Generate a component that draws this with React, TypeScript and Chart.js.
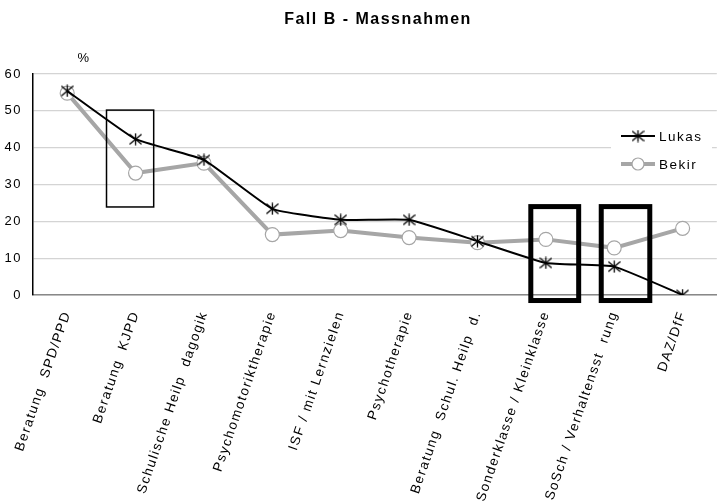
import React, { useEffect, useRef } from "react";
import { Chart, registerables } from "chart.js";

Chart.register(...registerables);

const TITLE = "Fall B - Massnahmen";
const UNIT = "%";
const categories = [
  "Beratung  SPD/PPD",
  "Beratung  KJPD",
  "Schulische Heilp  dagogik",
  "Psychomotoriktherapie",
  "ISF / mit Lernzielen",
  "Psychotherapie",
  "Beratung  Schul. Heilp  d.",
  "Sonderklasse / Kleinklasse",
  "SoSch / Verhaltensst  rung",
  "DAZ/DfF",
];
const lukas = [55.4, 42.3, 36.7, 23.4, 20.4, 20.4, 14.6, 8.7, 7.7, 0];
const bekir = [54.8, 33.1, 35.8, 16.4, 17.5, 15.6, 14.2, 15.1, 12.8, 18.1];
const yTicks = [0, 10, 20, 30, 40, 50, 60];
// highlight boxes (category index range, value range, line width)
const boxFrom = [0.575, 6.78, 7.81];
const boxTo = [1.265, 7.48, 8.52];
const boxLow = [23.9, -1.5, -1.5];
const boxHigh = [50.2, 24.0, 24.0];
const boxWidth = [1.5, 5, 5];

const FONT = "'Liberation Sans', Arial, sans-serif";
const SPACING = "1.5px";

function makeStar(w: number, h: number, lw: number, color: string) {
  const c = document.createElement("canvas");
  c.width = w;
  c.height = h;
  const ctx = c.getContext("2d")!;
  ctx.strokeStyle = color;
  ctx.lineWidth = lw;
  ctx.beginPath();
  ctx.moveTo(w / 2, 0.5);
  ctx.lineTo(w / 2, h - 0.5);
  ctx.moveTo(0.5, 1.5);
  ctx.lineTo(w - 0.5, h - 1.5);
  ctx.moveTo(w - 0.5, 1.5);
  ctx.lineTo(0.5, h - 1.5);
  ctx.stroke();
  return c;
}

export default function App() {
  const ref = useRef<HTMLCanvasElement>(null);
  useEffect(() => {
    const star = makeStar(13, 13, 1.3, "#000");
    const extras = {
      id: "extras",
      beforeUpdate(chart: any) {
        chart.ctx.letterSpacing = SPACING;
      },
      beforeDraw(chart: any) {
        chart.ctx.letterSpacing = SPACING;
      },
      afterDatasetsDraw(chart: any) {
        const ctx = chart.ctx;
        const xs = chart.scales.x;
        const ys = chart.scales.y;
        ctx.save();
        ctx.strokeStyle = "#000";
        for (let i = 0; i < boxFrom.length; i++) {
          const x1 = xs.getPixelForValue(boxFrom[i]);
          const x2 = xs.getPixelForValue(boxTo[i]);
          const y1 = ys.getPixelForValue(boxHigh[i]);
          const y2 = ys.getPixelForValue(boxLow[i]);
          ctx.lineWidth = boxWidth[i];
          ctx.strokeRect(x1, y1, x2 - x1, y2 - y1);
        }
        ctx.restore();
      },
      afterDraw(chart: any) {
        const ctx = chart.ctx;
        ctx.save();
        ctx.letterSpacing = SPACING;
        ctx.fillStyle = "#000";
        ctx.textAlign = "center";
        ctx.textBaseline = "middle";
        ctx.font = `bold 16px ${FONT}`;
        ctx.fillText(TITLE, 378, 20);
        ctx.font = `13px ${FONT}`;
        ctx.fillText(UNIT, 84, 58);
        // legend
        ctx.fillStyle = "#fff";
        ctx.fillRect(611, 124, 101, 52);
        const items = [
          { label: "Lukas", color: "#000", lw: 2, y: 136, star: true },
          { label: "Bekir", color: "#a6a6a6", lw: 4, y: 164, star: false },
        ];
        for (const it of items) {
          ctx.strokeStyle = it.color;
          ctx.lineWidth = it.lw;
          ctx.beginPath();
          ctx.moveTo(621, it.y);
          ctx.lineTo(655, it.y);
          ctx.stroke();
          if (it.star) {
            ctx.drawImage(star, 638 - 6.5, it.y - 6.5);
          } else {
            ctx.fillStyle = "#fff";
            ctx.strokeStyle = "#a6a6a6";
            ctx.lineWidth = 1.2;
            ctx.beginPath();
            ctx.arc(638, it.y, 6, 0, Math.PI * 2);
            ctx.fill();
            ctx.stroke();
          }
          ctx.fillStyle = "#000";
          ctx.textAlign = "left";
          ctx.font = `13.5px ${FONT}`;
          ctx.fillText(it.label, 659, it.y + 1);
        }
        ctx.restore();
      },
    };
    const chart = new Chart(ref.current!, {
      type: "line",
      data: {
        labels: categories,
        datasets: [
          {
            label: "Lukas",
            data: lukas,
            borderColor: "#000",
            borderWidth: 2,
            tension: 0.12,
            pointStyle: star as any,
            pointRadius: 6,
          },
          {
            label: "Bekir",
            data: bekir,
            borderColor: "#a6a6a6",
            borderWidth: 4,
            tension: 0,
            pointStyle: "circle",
            pointRadius: 7,
            pointBorderWidth: 1.2,
            pointBorderColor: "#a6a6a6",
            pointBackgroundColor: "#fff",
          },
        ],
      },
      options: {
        animation: false,
        responsive: false,
        devicePixelRatio: 1,
        layout: { padding: { top: 74, right: -4, left: 0, bottom: 0 } },
        plugins: {
          legend: { display: false },
          title: { display: false },
          tooltip: { enabled: false },
        },
        scales: {
          x: {
            type: "category",
            offset: true,
            grid: { display: false },
            border: { color: "#888", width: 1.5 },
            ticks: {
              autoSkip: false,
              maxRotation: 71,
              minRotation: 71,
              color: "#000",
              padding: 6,
              font: { family: FONT, size: 13.5 },
            },
            afterFit: (s: any) => {
              s.height = 207;
            },
          },
          y: {
            min: 0,
            max: 60,
            afterBuildTicks: (s: any) => {
              s.ticks = yTicks.map((v) => ({ value: v }));
            },
            grid: { color: "#d4d4d4", lineWidth: 1.3, drawTicks: false },
            border: { color: "#000", width: 1.5 },
            ticks: {
              color: "#000",
              padding: 11,
              font: { family: FONT, size: 13 },
            },
            afterFit: (s: any) => {
              s.width = 33;
            },
          },
        },
      },
      plugins: [extras],
    });
    return () => chart.destroy();
  }, []);
  return (
    <div style={{ position: "absolute", left: 0, top: 0, width: 725, height: 502 }}>
      <canvas ref={ref} width={725} height={502} style={{ display: "block" }} />
    </div>
  );
}
